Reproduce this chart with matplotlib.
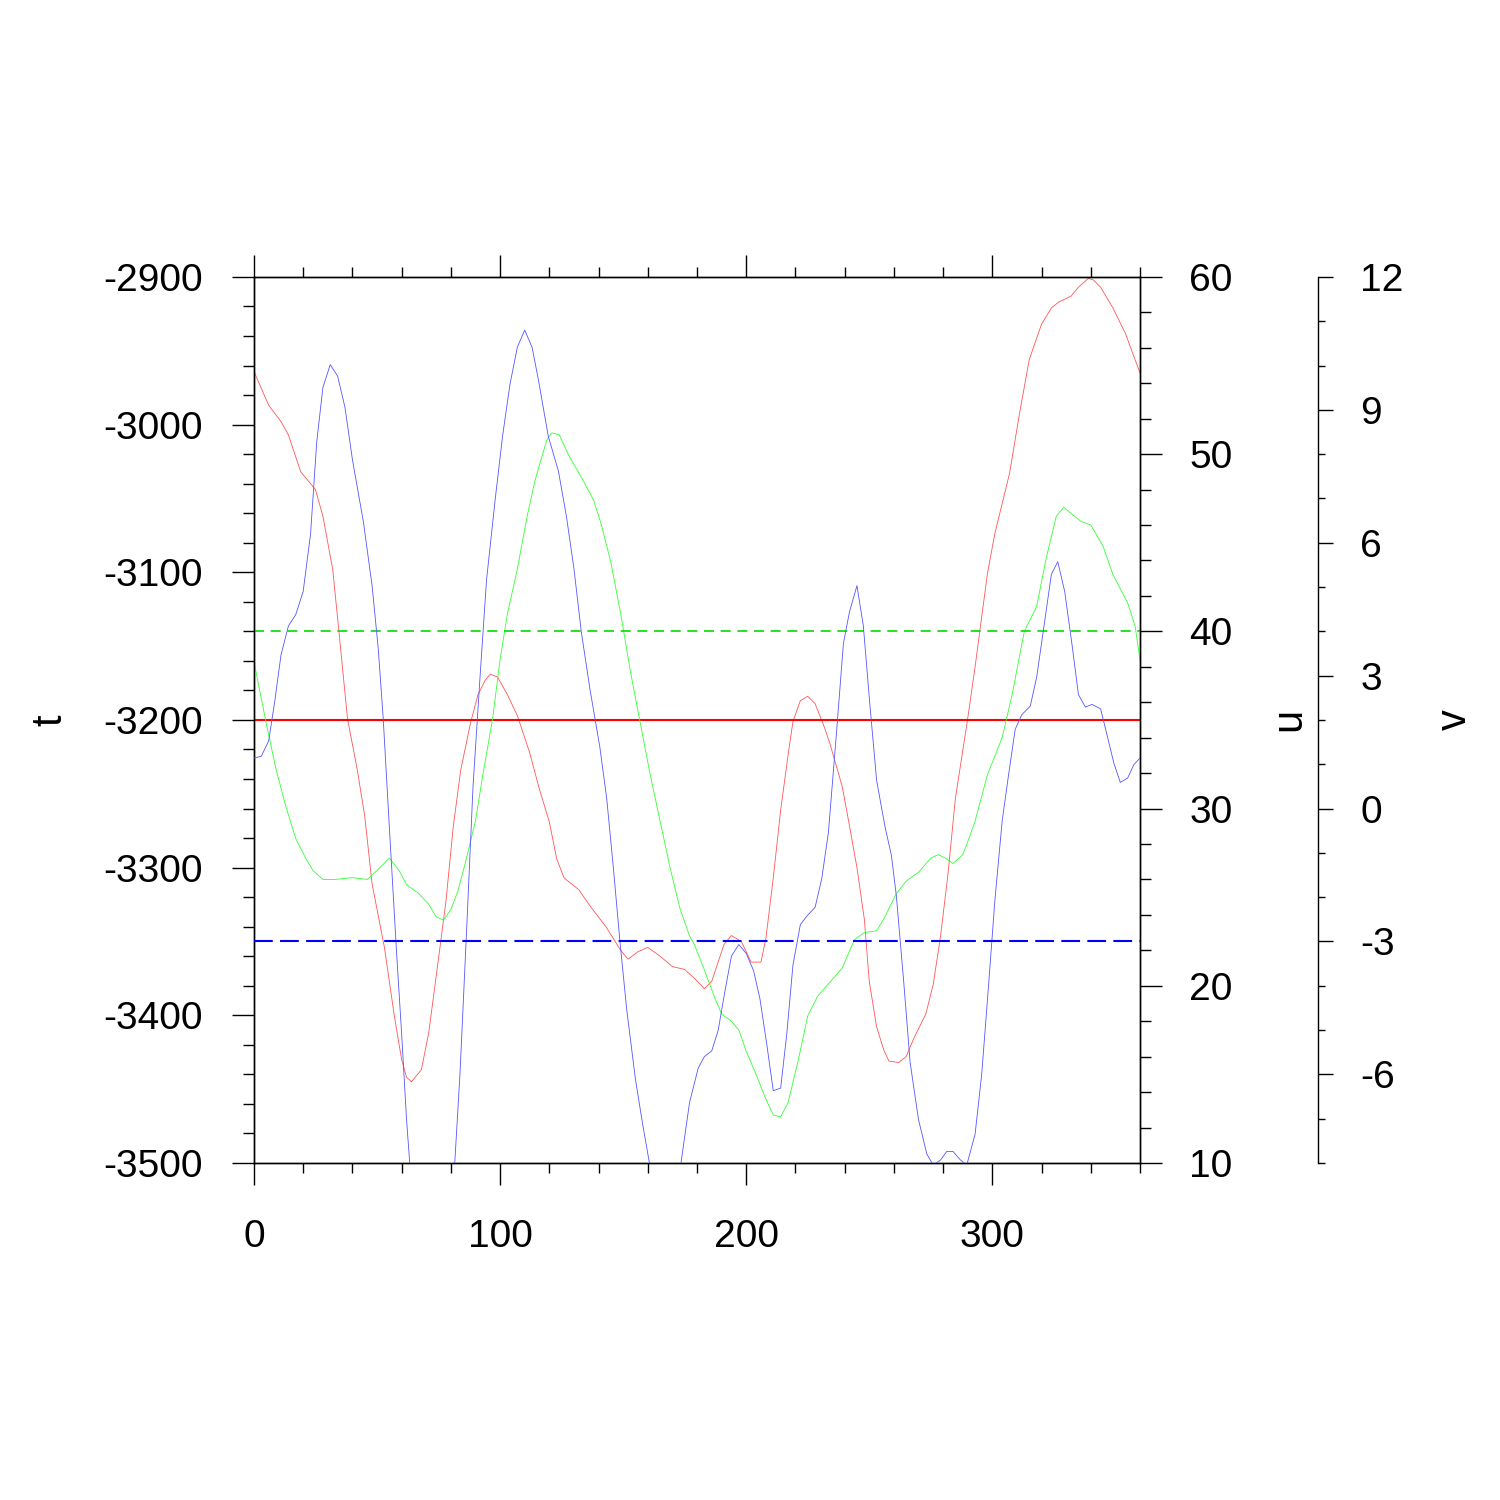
import matplotlib
matplotlib.use("Agg")
import matplotlib.pyplot as plt
from matplotlib.ticker import MultipleLocator

plt.rcParams['font.family'] = ['Liberation Sans', 'DejaVu Sans']
plt.rcParams['axes.unicode_minus'] = False

# t series (left axis)
lon_t = [0, 6, 11, 14, 19, 25, 28, 32, 35, 38, 42, 45, 48, 53, 57, 60, 62, 64, 68, 71,
         74, 78, 81, 84, 88, 91, 94, 96, 99, 103, 107, 112, 116, 120, 123, 126, 132, 137,
         143, 149, 152, 156, 160, 165, 170, 175, 179, 183, 186, 191, 194, 198, 202, 206,
         208, 211, 214, 217, 219, 222, 225, 228, 232, 234, 239, 242, 245, 248, 250, 253,
         256, 258, 262, 265, 268, 273, 276, 279, 282, 285, 290, 293, 298, 301, 307, 311,
         315, 320, 324, 327, 332, 335, 339, 341, 344, 349, 354, 360]
t = [-2964, -2987, -2998, -3007, -3032, -3044, -3062, -3098, -3148, -3199, -3234, -3265,
     -3311, -3354, -3400, -3430, -3442, -3445, -3437, -3412, -3374, -3323, -3272, -3234,
     -3202, -3183, -3173, -3169, -3171, -3183, -3197, -3222, -3247, -3269, -3294, -3307,
     -3315, -3327, -3340, -3356, -3362, -3357, -3354, -3360, -3367, -3369, -3375, -3382,
     -3377, -3352, -3346, -3350, -3364, -3364, -3348, -3307, -3261, -3224, -3201, -3187,
     -3184, -3189, -3206, -3216, -3245, -3272, -3300, -3335, -3377, -3408, -3424, -3431,
     -3432, -3428, -3416, -3399, -3379, -3346, -3304, -3253, -3199, -3164, -3101, -3074,
     -3033, -2993, -2956, -2932, -2921, -2917, -2913, -2907, -2901, -2902, -2907, -2921,
     -2938, -2965]

# u series (first right axis)
lon_u = [0, 5, 9, 13, 17, 21, 24, 28, 33, 40, 46, 50, 55, 59, 62, 67, 71, 74, 77, 80,
         83, 86, 90, 93, 97, 100, 103, 107, 111, 114, 116, 119, 121, 124, 128, 133, 138,
         141, 145, 149, 153, 157, 161, 165, 169, 173, 177, 179, 183, 187, 190, 194, 197,
         200, 204, 208, 211, 214, 217, 221, 225, 229, 234, 239, 244, 248, 253, 256, 261,
         265, 270, 275, 278, 281, 284, 288, 291, 293, 298, 304, 308, 313, 318, 322, 326,
         329, 336, 340, 345, 349, 355, 358, 360]
u = [38.3, 34.8, 32.2, 30.1, 28.3, 27.2, 26.5, 26.0, 26.0, 26.1, 26.0, 26.5, 27.2, 26.5,
     25.7, 25.2, 24.6, 23.9, 23.7, 24.3, 25.4, 27.0, 29.3, 31.9, 35.1, 38.4, 41.0, 43.5,
     46.5, 48.4, 49.4, 50.8, 51.2, 51.1, 49.9, 48.7, 47.4, 46.1, 43.9, 41.0, 37.7, 34.8,
     31.9, 29.3, 26.7, 24.4, 22.8, 22.3, 20.9, 19.4, 18.4, 18.0, 17.5, 16.3, 15.0, 13.6,
     12.7, 12.6, 13.4, 15.7, 18.3, 19.4, 20.2, 21.0, 22.6, 23.0, 23.1, 23.8, 25.2, 25.9,
     26.4, 27.2, 27.4, 27.2, 26.9, 27.4, 28.5, 29.3, 31.9, 34.0, 36.4, 40.0, 41.4, 44.2,
     46.5, 47.0, 46.2, 46.0, 44.8, 43.2, 41.6, 40.3, 38.4]

# v series (second right axis)
lon_v = [0, 3, 6, 8.5, 11, 14, 17, 20, 23, 25.5, 28, 31, 34, 37, 40, 44.5, 48, 50.5, 52.5,
         55, 58, 60, 62, 65, 70, 75, 80, 83.7, 86.4, 89, 92, 94.5, 98, 101, 104, 107, 110,
         113, 115.5, 119.6, 123.7, 127, 130, 133, 136.5, 140.5, 143.3, 146, 148.7, 151.5,
         155, 158, 161, 165, 170, 173.5, 175, 177, 180.5, 183, 186, 188.6, 191.4, 194, 197,
         200, 203, 205.6, 208.4, 211, 214, 216.5, 219, 222, 224.6, 228, 230.7, 233.4,
         236.8, 239.5, 242, 245, 247.6, 250.3, 253, 256.4, 259, 261, 264, 266.6, 270,
         273.4, 276, 279, 281.5, 284, 287, 289.6, 293, 295.7, 298.4, 301, 304, 306.6,
         309.3, 312, 315.4, 318, 321, 324, 326.6, 329.4, 332.3, 335, 337.8, 340.5, 344,
         346.6, 349.4, 352, 355, 357.5, 360]
v = [1.14, 1.18, 1.53, 2.44, 3.47, 4.12, 4.38, 4.9, 6.2, 8.27, 9.5, 10.02, 9.76, 9.05,
     7.88, 6.46, 5.03, 3.61, 2.05, -0.41, -3.3, -5.08, -7.02, -9.3, -11.0, -11.2, -9.5,
     -6.0, -2.75, 0.49, 3.09, 5.16, 6.97, 8.4, 9.57, 10.41, 10.8, 10.41, 9.7, 8.4, 7.62,
     6.58, 5.42, 3.99, 2.7, 1.4, 0.24, -1.32, -3.0, -4.56, -6.11, -7.15, -8.1, -8.8,
     -8.7, -8.0, -7.41, -6.63, -5.86, -5.6, -5.47, -5.01, -4.11, -3.33, -3.07, -3.27,
     -3.66, -4.3, -5.34, -6.37, -6.31, -5.08, -3.53, -2.62, -2.43, -2.23, -1.58, -0.54,
     1.79, 3.73, 4.45, 5.03, 4.12, 2.31, 0.63, -0.41, -1.06, -1.97, -3.91, -5.73, -7.02,
     -7.8, -8.05, -7.93, -7.74, -7.74, -7.93, -8.05, -7.35, -5.99, -4.04, -2.1, -0.28,
     0.76, 1.79, 2.12, 2.31, 2.96, 4.12, 5.29, 5.57, 4.9, 3.73, 2.57, 2.29, 2.35, 2.25,
     1.66, 1.02, 0.59, 0.69, 0.99, 1.14]

# reference levels
t_ref = -3200
u_ref = 40
v_ref = -3

fig = plt.figure(figsize=(15, 15), dpi=100)
ax = fig.add_axes([0.1693, 0.2247, 0.5907, 0.5907])
ax2 = ax.twinx()
ax3 = ax.twinx()

ax.plot(lon_t, t, color='#ff5555', linewidth=0.6)
ax.axhline(t_ref, color='red', linewidth=1.5)
ax2.plot(lon_u, u, color='#33ff33', linewidth=0.6)
ax2.axhline(u_ref, color='#00dd00', linewidth=1.2, dashes=(6, 4))
ax3.plot(lon_v, v, color='#5555ff', linewidth=0.6)
ax3.axhline(v_ref, color='blue', linewidth=1.5, dashes=(9, 3.5))

ax.set_xlim(0, 360)
ax.set_ylim(-3500, -2900)
ax2.set_ylim(10, 60)
ax3.set_ylim(-8, 12)

ax.xaxis.set_major_locator(MultipleLocator(100))
ax.xaxis.set_minor_locator(MultipleLocator(20))
ax.yaxis.set_major_locator(MultipleLocator(100))
ax.yaxis.set_minor_locator(MultipleLocator(20))
ax2.yaxis.set_major_locator(MultipleLocator(10))
ax2.yaxis.set_minor_locator(MultipleLocator(2))
ax3.yaxis.set_major_locator(MultipleLocator(3))
ax3.yaxis.set_minor_locator(MultipleLocator(1))

fs = 28
ax.tick_params(axis='x', which='both', direction='out', top=True, bottom=True,
               labelsize=fs, pad=24, width=1)
ax.tick_params(axis='x', which='major', length=16)
ax.tick_params(axis='x', which='minor', length=7.5)
ax.tick_params(axis='y', which='both', direction='out', left=True, right=False,
               labelsize=fs, pad=21, width=1)
ax.tick_params(axis='y', which='major', length=16)
ax.tick_params(axis='y', which='minor', length=8)
ax2.tick_params(axis='y', which='both', direction='out', labelsize=fs, pad=19.5, width=1)
ax2.tick_params(axis='y', which='major', length=16)
ax2.tick_params(axis='y', which='minor', length=8)
ax3.tick_params(axis='y', which='both', direction='out', labelsize=fs, pad=19.5, width=1)
ax3.tick_params(axis='y', which='major', length=11)
ax3.tick_params(axis='y', which='minor', length=5)

for a in (ax, ax2):
    for s in a.spines.values():
        s.set_linewidth(1.0)
for name in ('left', 'top', 'bottom'):
    ax3.spines[name].set_visible(False)
ax3.spines['right'].set_position(('axes', 1.2009))
ax3.spines['right'].set_linewidth(1.0)

ax.set_ylabel('t', fontsize=30)
ax2.set_ylabel('u', fontsize=30)
ax3.set_ylabel('v', fontsize=30)
for a, xpos in ((ax, -0.230), (ax2, 1.169), (ax3, 1.3555)):
    a.yaxis.label.set_rotation(90)
    a.yaxis.label.set_va('center')
    a.yaxis.label.set_ha('center')
    a.yaxis.set_label_coords(xpos, 0.5)

fig.savefig('out.png', dpi=100)
